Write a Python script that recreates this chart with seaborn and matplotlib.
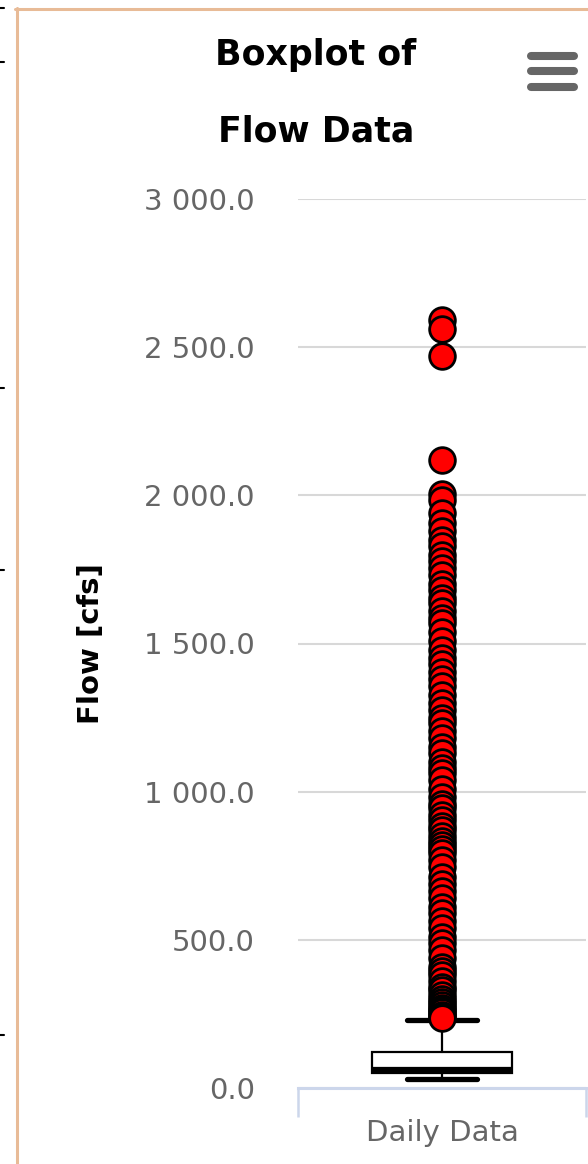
"""Boxplot of daily flow data, Highcharts-like look."""
import matplotlib
matplotlib.use("Agg")
import matplotlib.pyplot as plt
import matplotlib.ticker as mticker
from matplotlib.lines import Line2D
import seaborn as sns
import pandas as pd

# --- data ---
CATEGORY = "Daily Data"
LOWER_WHISKER = 29
Q1 = 52
MEDIAN = 62
Q3 = 120
UPPER_WHISKER = 228
OUTLIERS = [
    2590, 2560, 2470, 2120, 2005, 1985, 1940, 1905, 1880, 1850, 1830, 1800,
    1780, 1755, 1730, 1700, 1680, 1655, 1637, 1610, 1585, 1570, 1540, 1510,
    1479, 1450, 1430, 1405, 1380, 1355, 1327, 1300, 1275, 1250, 1233, 1205,
    1180, 1152, 1130, 1100, 1080, 1064, 1040, 1010, 983, 960, 945, 920, 905,
    885, 870, 850, 835, 820, 805, 794, 770, 745, 713, 690, 665, 640, 612,
    590, 565, 540, 511, 490, 465, 440, 410, 395, 380, 360, 342, 330, 315,
    300, 290, 280, 271, 262, 255, 248, 242, 236,
]
Y_TICKS = [0, 500, 1000, 1500, 2000, 2500, 3000]
TITLE_LINES = ["Boxplot of", "Flow Data"]
Y_LABEL = "Flow [cfs]"

GRAY_TXT = "#666666"
AXIS_BLUE = "#ccd6eb"
GRID = "#d8d8d8"
BORDER = "#e8bb97"

sns.set_theme(style="white")
plt.rcParams["font.family"] = ["DejaVu Sans"]

W, H = 588, 1164
fig = plt.figure(figsize=(W / 100, H / 100), dpi=100)
fig.patch.set_facecolor("white")
ax = fig.add_axes([298 / W, 76 / H, 288 / W, 889 / H])

# box body
stats = [{"med": MEDIAN, "q1": Q1, "q3": Q3, "whislo": LOWER_WHISKER,
          "whishi": UPPER_WHISKER, "fliers": [], "label": CATEGORY}]
ax.bxp(stats, positions=[0], widths=0.486, capwidths=0.24, showfliers=False,
       patch_artist=True,
       boxprops=dict(facecolor="white", edgecolor="black", linewidth=1.6),
       medianprops=dict(color="black", linewidth=4.5),
       whiskerprops=dict(color="black", linewidth=1.6),
       capprops=dict(color="black", linewidth=3.8),
       zorder=3)

# outliers
flier_df = pd.DataFrame({"category": CATEGORY, "flow": OUTLIERS})
sns.stripplot(data=flier_df, x="category", y="flow", jitter=False,
              color="#ff0000", edgecolor="black", linewidth=2, size=18.5,
              ax=ax, zorder=5)

ax.set_xlim(-0.5, 0.5)
ax.set_ylim(0, 3000)
ax.set_xticks([0])
ax.set_xticklabels([CATEGORY])
ax.set_xticks([-0.5, 0.5], minor=True)
ax.set_yticks(Y_TICKS)
ax.yaxis.set_major_formatter(
    mticker.FuncFormatter(lambda v, _: f"{v:,.1f}".replace(",", " ")))

ax.tick_params(axis="x", which="major", length=0, pad=22,
               labelsize=21, labelcolor=GRAY_TXT)
ax.tick_params(axis="x", which="minor", length=21, width=1.8,
               color=AXIS_BLUE, direction="out", bottom=True)
ax.tick_params(axis="y", length=0, pad=31, labelsize=21, labelcolor=GRAY_TXT)

ax.yaxis.grid(True, color=GRID, linewidth=1.5)
ax.xaxis.grid(False)
ax.set_axisbelow(True)
for side in ["left", "top", "right"]:
    ax.spines[side].set_visible(False)
ax.spines["bottom"].set_color(AXIS_BLUE)
ax.spines["bottom"].set_linewidth(2.2)

ax.set_xlabel("")
ax.set_ylabel(Y_LABEL, fontsize=21, fontweight="bold", color="black")
ax.yaxis.set_label_coords(-0.67, 0.5)

# title
fig.text(316 / W, 1 - 65 / H, TITLE_LINES[0], ha="center", va="baseline",
         fontsize=25, fontweight="bold", color="black")
fig.text(316 / W, 1 - 142 / H, TITLE_LINES[1], ha="center", va="baseline",
         fontsize=25, fontweight="bold", color="black")

# menu icon
for yy in [56, 71, 87]:
    fig.add_artist(Line2D([531 / W, 574 / W], [1 - yy / H] * 2,
                          color=GRAY_TXT, lw=5.8, solid_capstyle="round"))

# chart container border
fig.add_artist(Line2D([16.5 / W] * 2, [0, 1 - 8 / H], color=BORDER, lw=2.2))
fig.add_artist(Line2D([15 / W, 1], [1 - 9 / H] * 2, color=BORDER, lw=2.2))

# bits of neighbouring element on the left edge
for yy in [8, 62, 388, 570, 1035]:
    fig.add_artist(Line2D([0, 4 / W], [1 - yy / H] * 2, color="black", lw=1.5))

fig.savefig("out.png", dpi=100)
